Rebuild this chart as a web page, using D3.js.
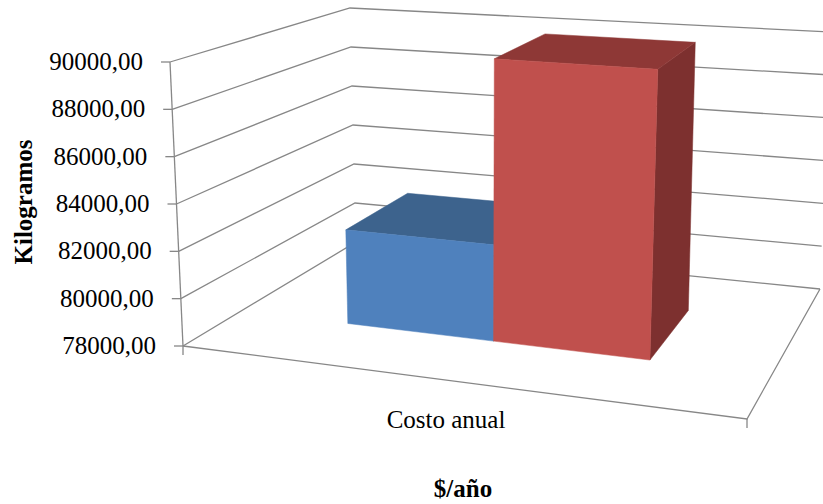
<!DOCTYPE html>
<html>
<head>
<meta charset="utf-8">
<script src="https://cdn.jsdelivr.net/npm/d3@7"></script>
<style>
  body { margin: 0; background: #fff; }
  svg { display: block; }
  text { font-family: "Liberation Serif", "Times New Roman", serif; }
</style>
</head>
<body>
<div id="chart"></div>
<script>
let w = 823;
let h = 504;

// data
const categories = ["Costo anual"];
const seriesNames = ["Serie 1", "Serie 2"];
const seriesValues = [82120, 90080];
const seriesColors = [
  { front: "#4f81bd", top: "#3d638d", side: "#36587f" },
  { front: "#c0504d", top: "#8e3836", side: "#7d302f" }
];
const yTicks = [78000, 80000, 82000, 84000, 86000, 88000, 90000];
const yTitle = "Kilogramos";
const xTitle = "$/año";

// screen corners of the 3d box, [x][y][z] with 0/1 each
const corners = {
  "000": [183, 346], "010": [170, 62],
  "001": [356, 242], "011": [350, 8],
  "100": [747, 419], "110": [762, 104],
  "101": [820, 289], "111": [830, 32]
};

// trilinear mapping of unit cube onto the screen corners
function proj(x, y, z) {
  let px = 0, py = 0;
  for (let i = 0; i < 2; i++)
    for (let j = 0; j < 2; j++)
      for (let k = 0; k < 2; k++) {
        let wgt = (i ? x : 1 - x) * (j ? y : 1 - y) * (k ? z : 1 - z);
        let c = corners["" + i + j + k];
        px += wgt * c[0];
        py += wgt * c[1];
      }
  return [px, py];
}

let yScale = d3.scaleLinear().domain([78000, 90000]).range([0, 1]);
// bar edges along the category axis (perspective makes the right bar look wider)
let xEdge = d3.scaleLinear().domain([0, 1, 2]).range([0.2, 0.475, 0.77]);
let zFront = 0.34, zBack = 0.74;

let loc = d3.formatLocale({ decimal: ",", thousands: "", grouping: [3], currency: ["$", ""] });
let fmt = loc.format(".2f");

let viz = d3.select("#chart")
  .append("svg")
    .attr("width", w)
    .attr("height", h);

let line = d3.line();
let gridColor = "#878787";

// walls gridlines
let grid = viz.append("g").attr("class", "grid");
yTicks.forEach(function(v) {
  let y = yScale(v);
  grid.append("path")
    .attr("d", line([proj(0, y, 0), proj(0, y, 1), proj(1, y, 1)]))
    .attr("fill", "none")
    .attr("stroke", gridColor)
    .attr("stroke-width", 1.3);
});

// floor edges
grid.append("path")
  .attr("d", line([proj(0, 0, 0), proj(1, 0, 0), proj(1, 0, 1)]))
  .attr("fill", "none")
  .attr("stroke", gridColor)
  .attr("stroke-width", 1.3);

// value axis line + ticks
let axis = viz.append("g").attr("class", "axis");
axis.append("path")
  .attr("d", line([proj(0, 0, 0), proj(0, 1, 0)]))
  .attr("stroke", gridColor)
  .attr("stroke-width", 1.3);

yTicks.forEach(function(v) {
  let p = proj(0, yScale(v), 0);
  axis.append("line")
    .attr("x1", p[0] - 9).attr("x2", p[0])
    .attr("y1", p[1]).attr("y2", p[1])
    .attr("stroke", gridColor)
    .attr("stroke-width", 1.3);
  axis.append("text")
    .attr("x", p[0] - 27)
    .attr("y", p[1] + 8)
    .attr("text-anchor", "end")
    .attr("font-size", 25)
    .attr("fill", "#000")
    .text(fmt(v));
});

// category ticks
[0, 1].forEach(function(x) {
  let p = proj(x, 0, 0);
  axis.append("line")
    .attr("x1", p[0]).attr("x2", p[0])
    .attr("y1", p[1]).attr("y2", p[1] + 9)
    .attr("stroke", gridColor)
    .attr("stroke-width", 1.3);
});

// bars
let bars = viz.append("g").attr("class", "bars");
seriesNames.forEach(function(s, i) {
  let x0 = xEdge(i), x1 = xEdge(i + 1);
  let y1 = yScale(seriesValues[i]);
  let col = seriesColors[i];
  let faces = [
    { pts: [[x1, 0, zFront], [x1, 0, zBack], [x1, y1, zBack], [x1, y1, zFront]], fill: col.side },
    { pts: [[x0, y1, zFront], [x1, y1, zFront], [x1, y1, zBack], [x0, y1, zBack]], fill: col.top },
    { pts: [[x0, 0, zFront], [x1, 0, zFront], [x1, y1, zFront], [x0, y1, zFront]], fill: col.front }
  ];
  faces.forEach(function(f) {
    bars.append("path")
      .attr("d", line(f.pts.map(function(q) { return proj(q[0], q[1], q[2]); })) + "Z")
      .attr("fill", f.fill)
      .attr("stroke", f.fill)
      .attr("stroke-width", 0.5);
  });
});

// category label
viz.append("text")
  .attr("x", 446)
  .attr("y", 428)
  .attr("text-anchor", "middle")
  .attr("font-size", 25)
  .text(categories[0]);

// axis titles
viz.append("text")
  .attr("x", 463)
  .attr("y", 497)
  .attr("text-anchor", "middle")
  .attr("font-size", 25)
  .attr("font-weight", "bold")
  .text(xTitle);

viz.append("text")
  .attr("transform", "translate(32,202) rotate(-90)")
  .attr("text-anchor", "middle")
  .attr("font-size", 25)
  .attr("font-weight", "bold")
  .text(yTitle);
</script>
</body>
</html>
